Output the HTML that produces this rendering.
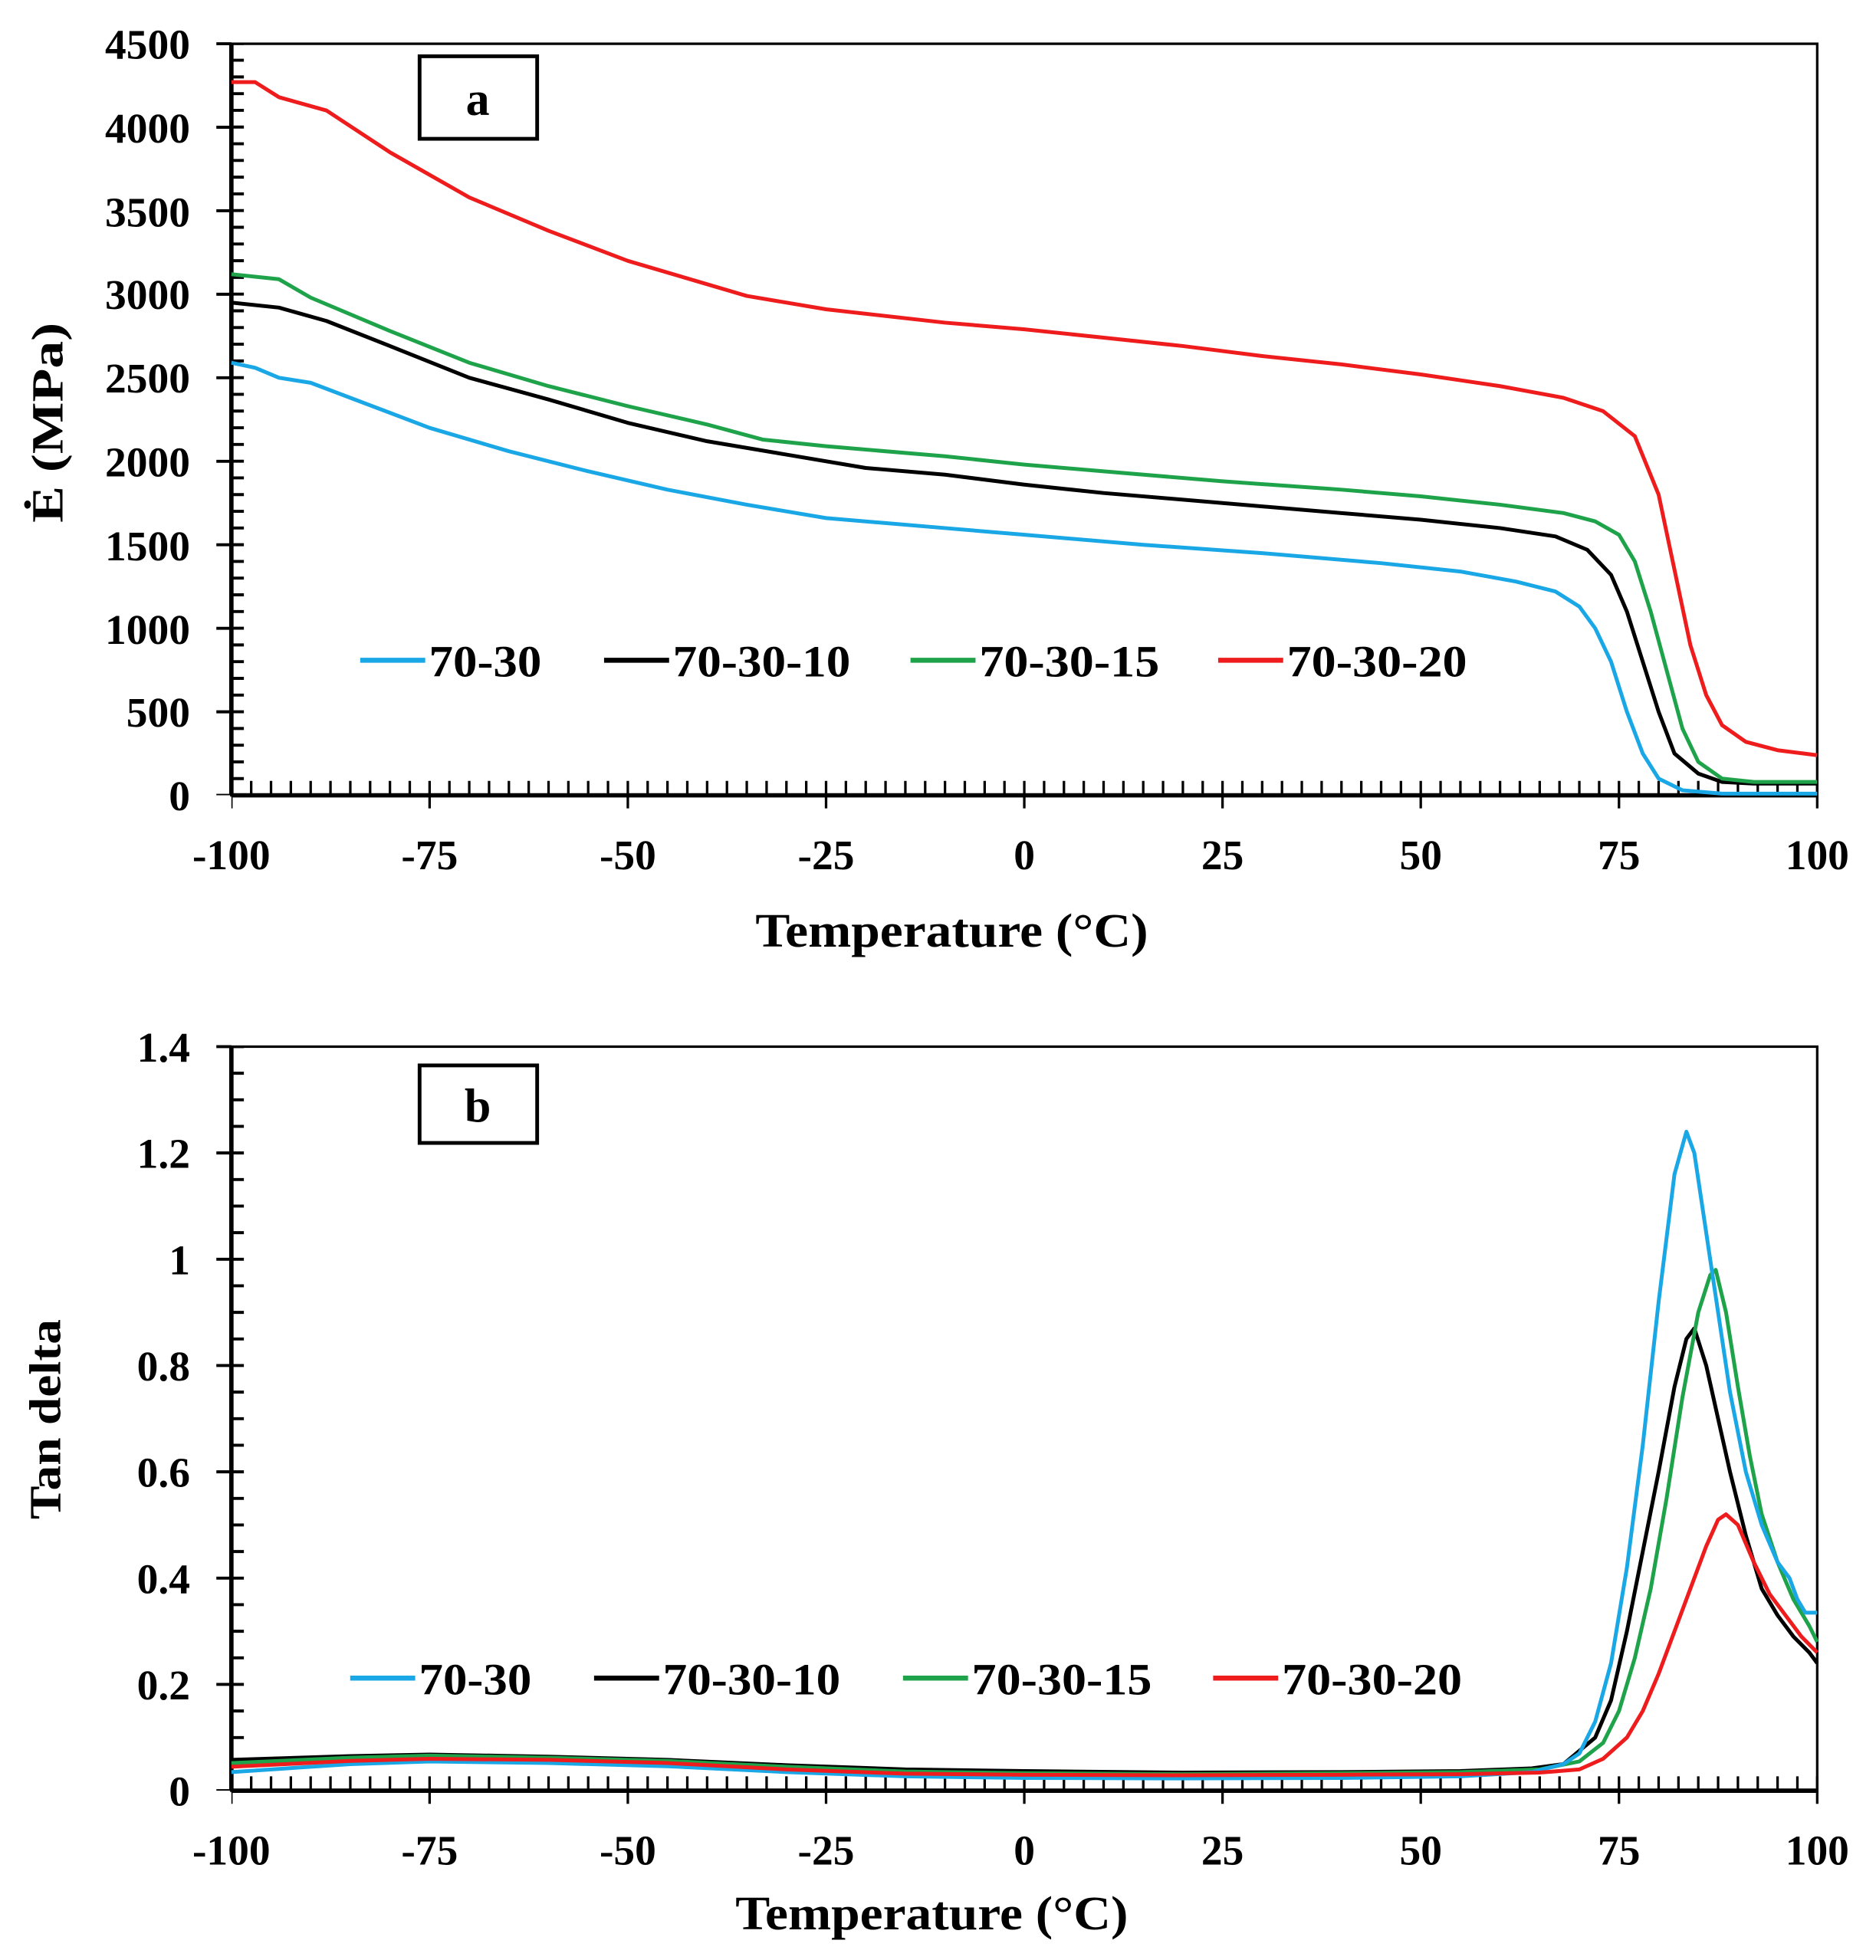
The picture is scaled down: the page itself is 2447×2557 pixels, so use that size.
<!DOCTYPE html>
<html><head><meta charset="utf-8"><style>
html,body{margin:0;padding:0;background:#fff}
svg{display:block}
text{font-family:"Liberation Serif",serif;font-weight:bold;fill:#000}
</style></head><body>
<svg width="2447" height="2557" viewBox="0 0 1500 1567.4" preserveAspectRatio="none" xmlns="http://www.w3.org/2000/svg">
<!-- ===== Panel a ===== -->
<rect x="185" y="35" width="1268" height="601" fill="none" stroke="#000" stroke-width="2"/>
<line x1="185" y1="35" x2="185" y2="636" stroke="#000" stroke-width="3.5"/>
<line x1="185" y1="636" x2="1453" y2="636" stroke="#000" stroke-width="3.5"/>
<!-- y minor ticks -->
<line x1="190" y1="636" x2="190" y2="35" stroke="#000" stroke-width="10" stroke-dasharray="2.4 10.96" stroke-dashoffset="1.2"/>
<!-- y major ticks -->
<line x1="179" y1="636" x2="179" y2="30" stroke="#000" stroke-width="12" stroke-dasharray="2.4 64.38" stroke-dashoffset="1.2"/>
<!-- x minor ticks -->
<line x1="185" y1="630" x2="1455" y2="630" stroke="#000" stroke-width="11" stroke-dasharray="2 13.85" stroke-dashoffset="1"/>
<line x1="185" y1="641" x2="1455" y2="641" stroke="#000" stroke-width="11" stroke-dasharray="2 156.5" stroke-dashoffset="1"/>
<g font-size="34" text-anchor="end">
<text x="152" y="47">4500</text><text x="152" y="114">4000</text><text x="152" y="181">3500</text>
<text x="152" y="247">3000</text><text x="152" y="314">2500</text><text x="152" y="381">2000</text>
<text x="152" y="448">1500</text><text x="152" y="515">1000</text><text x="152" y="581">500</text>
<text x="152" y="648">0</text>
</g>
<g font-size="34" text-anchor="middle">
<text x="185" y="695">-100</text><text x="343.5" y="695">-75</text><text x="502" y="695">-50</text>
<text x="660.5" y="695">-25</text><text x="819" y="695">0</text><text x="977.5" y="695">25</text>
<text x="1136" y="695">50</text><text x="1294.5" y="695">75</text><text x="1453" y="695">100</text>
</g>
<text x="761" y="757" font-size="38" text-anchor="middle" textLength="314" lengthAdjust="spacingAndGlyphs">Temperature (°C)</text>
<text transform="translate(50,338) rotate(-90)" font-size="36" text-anchor="middle" textLength="160" lengthAdjust="spacingAndGlyphs">Ė (MPa)</text>
<rect x="335.5" y="45" width="94" height="66" fill="#fff" stroke="#000" stroke-width="3"/>
<text x="382" y="92" font-size="38" text-anchor="middle">a</text>
<!-- legend a -->
<g stroke-width="4">
<line x1="288" y1="528" x2="340" y2="528" stroke="#1aa7e6"/>
<line x1="483" y1="528" x2="535" y2="528" stroke="#000"/>
<line x1="728" y1="528" x2="780" y2="528" stroke="#1fa34a"/>
<line x1="974" y1="528" x2="1026" y2="528" stroke="#ee1c1c"/>
</g>
<g font-size="36">
<text x="343" y="541" textLength="90" lengthAdjust="spacingAndGlyphs">70-30</text>
<text x="538" y="541" textLength="142" lengthAdjust="spacingAndGlyphs">70-30-10</text>
<text x="783" y="541" textLength="144" lengthAdjust="spacingAndGlyphs">70-30-15</text>
<text x="1029" y="541" textLength="144" lengthAdjust="spacingAndGlyphs">70-30-20</text>
</g>
<g transform="matrix(6.34 0 0 -0.13356 819 636)" fill="none" stroke-width="5" stroke-linejoin="round" vector-effect="non-scaling-stroke">
<polyline vector-effect="non-scaling-stroke" stroke="#1aa7e6" points="-100,2590 -97,2560 -94,2500 -90,2470 -85,2380 -75,2200 -65,2060 -55,1940 -45,1830 -35,1740 -25,1660 -10,1600 0,1560 15,1500 30,1450 45,1390 55,1340 62,1280 67,1220 70,1130 72,1000 74,800 76,500 78,250 80,100 83,30 88,10 100,10"/>
<polyline vector-effect="non-scaling-stroke" stroke="#000" points="-100,2950 -94,2920 -88,2840 -80,2690 -70,2500 -60,2370 -50,2230 -40,2120 -30,2040 -20,1960 -10,1920 0,1860 10,1810 25,1750 40,1690 50,1650 60,1600 67,1550 71,1470 74,1320 76,1100 78,800 80,500 82,250 85,130 88,80 92,70 100,70"/>
<polyline vector-effect="non-scaling-stroke" stroke="#1fa34a" points="-100,3120 -94,3090 -90,2980 -80,2780 -70,2590 -60,2450 -50,2330 -40,2220 -33,2130 -25,2090 -10,2030 0,1980 10,1940 25,1880 40,1830 50,1790 60,1740 68,1690 72,1640 75,1560 77,1400 79,1100 81,750 83,400 85,200 88,100 92,80 100,80"/>
<polyline vector-effect="non-scaling-stroke" stroke="#ee1c1c" points="-100,4270 -97,4270 -94,4180 -88,4100 -80,3850 -70,3580 -60,3380 -50,3200 -40,3060 -35,2990 -25,2910 -10,2830 0,2790 10,2740 20,2690 30,2630 40,2580 50,2520 60,2450 68,2380 73,2300 77,2150 80,1800 82,1350 84,900 86,600 88,420 91,320 95,270 100,240"/>
</g>

<!-- ===== Panel b ===== -->
<rect x="185" y="837" width="1268" height="595" fill="none" stroke="#000" stroke-width="2"/>
<line x1="185" y1="837" x2="185" y2="1432" stroke="#000" stroke-width="3.5"/>
<line x1="185" y1="1432" x2="1453" y2="1432" stroke="#000" stroke-width="3.5"/>
<line x1="190" y1="1432" x2="190" y2="837" stroke="#000" stroke-width="10" stroke-dasharray="2.4 18.85" stroke-dashoffset="1.2"/>
<line x1="179" y1="1432" x2="179" y2="832" stroke="#000" stroke-width="12" stroke-dasharray="2.4 82.6" stroke-dashoffset="1.2"/>
<line x1="185" y1="1426" x2="1455" y2="1426" stroke="#000" stroke-width="11" stroke-dasharray="2 13.85" stroke-dashoffset="1"/>
<line x1="185" y1="1437" x2="1455" y2="1437" stroke="#000" stroke-width="11" stroke-dasharray="2 156.5" stroke-dashoffset="1"/>
<g font-size="34" text-anchor="end">
<text x="152" y="849">1.4</text><text x="152" y="934">1.2</text><text x="152" y="1019">1</text>
<text x="152" y="1104">0.8</text><text x="152" y="1189">0.6</text><text x="152" y="1274">0.4</text>
<text x="152" y="1359">0.2</text><text x="152" y="1444">0</text>
</g>
<g font-size="34" text-anchor="middle">
<text x="185" y="1491">-100</text><text x="343.5" y="1491">-75</text><text x="502" y="1491">-50</text>
<text x="660.5" y="1491">-25</text><text x="819" y="1491">0</text><text x="977.5" y="1491">25</text>
<text x="1136" y="1491">50</text><text x="1294.5" y="1491">75</text><text x="1453" y="1491">100</text>
</g>
<text x="745" y="1543" font-size="38" text-anchor="middle" textLength="314" lengthAdjust="spacingAndGlyphs">Temperature (°C)</text>
<text transform="translate(48,1135) rotate(-90)" font-size="36" text-anchor="middle" textLength="160" lengthAdjust="spacingAndGlyphs">Tan delta</text>
<rect x="335.5" y="852" width="94" height="62" fill="#fff" stroke="#000" stroke-width="3"/>
<text x="382" y="897" font-size="38" text-anchor="middle">b</text>
<g stroke-width="4">
<line x1="280" y1="1342" x2="332" y2="1342" stroke="#1aa7e6"/>
<line x1="475" y1="1342" x2="527" y2="1342" stroke="#000"/>
<line x1="722" y1="1342" x2="774" y2="1342" stroke="#1fa34a"/>
<line x1="970" y1="1342" x2="1022" y2="1342" stroke="#ee1c1c"/>
</g>
<g font-size="36">
<text x="335" y="1355" textLength="90" lengthAdjust="spacingAndGlyphs">70-30</text>
<text x="530" y="1355" textLength="142" lengthAdjust="spacingAndGlyphs">70-30-10</text>
<text x="777" y="1355" textLength="144" lengthAdjust="spacingAndGlyphs">70-30-15</text>
<text x="1025" y="1355" textLength="144" lengthAdjust="spacingAndGlyphs">70-30-20</text>
</g>
<g transform="matrix(6.34 0 0 -425 819 1432)" fill="none" stroke-linejoin="round">
<polyline vector-effect="non-scaling-stroke" stroke-width="5" stroke="#000" points="-100,0.058 -85,0.065 -75,0.068 -60,0.064 -45,0.058 -30,0.048 -15,0.04 0,0.037 20,0.034 40,0.035 55,0.037 64,0.042 68,0.05 72,0.1 74,0.17 76,0.3 78,0.45 80,0.6 82,0.76 83.5,0.85 84.5,0.87 86,0.8 87.5,0.7 89,0.6 91,0.48 93,0.38 95,0.33 97,0.29 99,0.26 100,0.24"/>
<polyline vector-effect="non-scaling-stroke" stroke-width="5" stroke="#1fa34a" points="-100,0.052 -85,0.062 -75,0.066 -60,0.062 -45,0.056 -30,0.045 -15,0.036 0,0.033 20,0.031 40,0.033 55,0.035 65,0.04 70,0.055 73,0.09 75,0.15 77,0.25 79,0.38 81,0.55 83,0.74 85,0.9 86.5,0.97 87.2,0.98 88.5,0.9 90,0.76 91.5,0.63 93,0.52 95,0.43 97,0.36 99,0.31 100,0.28"/>
<polyline vector-effect="non-scaling-stroke" stroke-width="5" stroke="#1aa7e6" points="-100,0.035 -85,0.05 -75,0.055 -60,0.052 -45,0.046 -30,0.035 -15,0.027 0,0.024 20,0.023 40,0.024 55,0.027 64,0.035 68,0.05 70,0.07 72,0.13 74,0.24 76,0.42 78,0.65 80,0.92 82,1.16 83.5,1.24 84.5,1.2 86,1.05 87.5,0.9 89,0.75 91,0.6 93,0.5 95,0.43 96.5,0.4 97.5,0.36 98.5,0.335 100,0.335"/>
<polyline vector-effect="non-scaling-stroke" stroke-width="5" stroke="#ee1c1c" points="-100,0.045 -85,0.056 -75,0.06 -60,0.058 -45,0.052 -30,0.04 -15,0.032 0,0.03 20,0.029 40,0.03 55,0.031 65,0.034 70,0.04 73,0.06 76,0.1 78,0.15 80,0.22 82,0.3 84,0.38 86,0.46 87.5,0.51 88.5,0.52 90,0.5 92,0.43 94,0.37 96,0.33 98,0.29 100,0.26"/>
</g>
</svg>
</body></html>
